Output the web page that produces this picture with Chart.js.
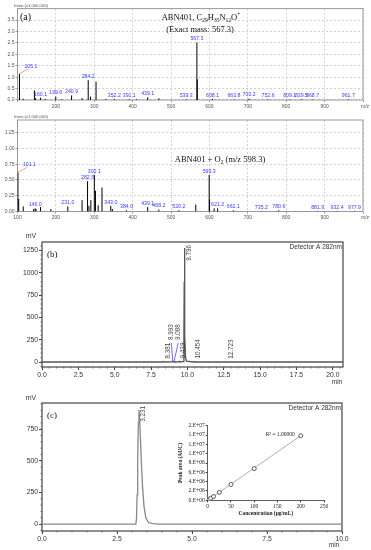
<!DOCTYPE html>
<html>
<head>
<meta charset="utf-8">
<script src="https://cdn.jsdelivr.net/npm/chart.js@4.4.0/dist/chart.umd.min.js"></script>
<style>
  html, body { margin: 0; padding: 0; background: #fff; }
  #page { position: relative; width: 371px; height: 550px; overflow: hidden; background: #fff; }
  #page canvas { position: absolute; left: 0; top: 0; }
</style>
</head>
<body>
<div id="page">
  <canvas id="ms1" width="371" height="550"></canvas>
  <canvas id="ms2" width="371" height="550"></canvas>
  <canvas id="lcB" width="371" height="550"></canvas>
  <canvas id="lcC" width="371" height="550"></canvas>
  <canvas id="cal" width="371" height="550"></canvas>
</div>
<script>
// ---------- data ----------
// (a) mass spectra, intensity in x1,000,000
const msTicksX = [100, 200, 300, 400, 500, 600, 700, 800, 900, 1000];
const ms1TicksY = [0, 0.5, 1, 1.5, 2, 2.5, 3, 3.5];
const ms2TicksY = [0, 0.25, 0.5, 0.75, 1, 1.25];

const ms1Mz  = [105.1, 115.0, 144.0, 147.1, 160.1, 172.0, 199.6, 215.1, 240.9, 268.1, 284.2, 290.0, 304.6, 330.0, 352.2, 391.1, 410.0, 439.1, 468.2, 539.3, 567.3, 568.3, 608.1, 663.8, 703.2, 752.6, 809.1, 839.5, 868.7, 961.7];
const ms1Int = [1.15, 0.05, 0.42, 0.08, 0.10, 0.04, 0.15, 0.03, 0.20, 0.08, 0.87, 0.15, 0.80, 0.04, 0.04, 0.03, 0.03, 0.12, 0.07, 0.03, 2.52, 0.90, 0.04, 0.02, 0.06, 0.02, 0.02, 0.03, 0.02, 0.02];
const ms1Lab = ['105.1', '', '', '', '160.1', '', '199.6', '', '240.9', '', '284.2', '', '', '', '352.2', '391.1', '', '439.1', '', '539.3', '567.3', '', '608.1', '663.8', '703.2', '752.6', '809.1', '839.5', '868.7', '961.7'];

const ms2Mz  = [101.1, 103.1, 115.0, 142.0, 146.0, 148.1, 160.0, 187.1, 231.0, 268.2, 282.5, 286.1, 291.1, 300.1, 303.1, 310.1, 320.1, 343.0, 347.1, 384.0, 439.1, 468.2, 520.2, 564.3, 599.3, 600.3, 612.2, 621.2, 662.1, 735.2, 780.6, 881.9, 932.4, 977.9];
const ms2Int = [0.62, 0.20, 0.08, 0.04, 0.05, 0.04, 0.07, 0.04, 0.08, 0.18, 0.48, 0.09, 0.18, 0.58, 0.33, 0.10, 0.38, 0.09, 0.04, 0.02, 0.07, 0.03, 0.02, 0.11, 0.58, 0.19, 0.05, 0.05, 0.02, 0.01, 0.02, 0.01, 0.01, 0.01];
const ms2Lab = ['101.1', '', '', '', '146.0', '', '', '', '231.0', '', '282.5', '', '', '300.1', '', '', '', '343.0', '', '384.0', '439.1', '468.2', '520.2', '', '599.3', '', '', '621.2', '662.1', '735.2', '780.6', '881.9', '932.4', '977.9'];

// (b) chromatogram, min / mV
const bTicksX = [0, 2.5, 5, 7.5, 10, 12.5, 15, 17.5, 20];
const bTicksY = [0, 250, 500, 750, 1000, 1250];
const bRt = [0, 8.30, 8.381, 8.45, 8.95, 8.993, 9.04, 9.088, 9.14, 9.40, 9.439, 9.48, 9.72, 9.76, 9.78, 9.796, 9.81, 9.83, 9.87, 9.93, 10.40, 10.454, 10.51, 12.67, 12.723, 12.78, 20.7];
const bMv = [0, 0, 5, 0, 1, 6, 2, 5, 0, 1, 7, 3, 4, 300, 900, 1278, 900, 300, 60, 10, 0, 5, 0, 0, 4, 0, 0];
const bPeaks = [8.381, 8.993, 9.088, 9.439, 9.796, 10.454, 12.723];

// (c) chromatogram
const cTicksX = [0, 2.5, 5, 7.5, 10];
const cTicksY = [0, 250, 500, 750];
const cRt = [0, 3.10, 3.13, 3.15, 3.17, 3.19, 3.21, 3.231, 3.25, 3.28, 3.31, 3.35, 3.40, 3.46, 3.55, 3.70, 3.90, 10];
const cMv = [0, 0, 5, 40, 230, 520, 800, 902, 860, 680, 500, 300, 140, 50, 12, 3, 0, 0];
const cPeaks = [3.231];

// (c) inset calibration
const calTicksX = [0, 50, 100, 150, 200, 250];
const calTicksY = [0, 2e6, 4e6, 6e6, 8e6, 1e7, 1.2e7, 1.4e7, 1.6e7];
const calConc = [0, 3.125, 6.25, 12.5, 25, 50, 100, 200];
const calAuc  = [0, 0.2e6, 0.43e6, 0.8e6, 1.7e6, 3.4e6, 6.8e6, 1.385e7];
const fitConc = [0, 200];
const fitAuc  = [0, 1.385e7];

// ---------- helpers ----------
const W = 371, H = 550;
const SANS = '"Liberation Sans", Arial, sans-serif';
const SERIF = '"Liberation Serif", "Times New Roman", serif';

function tickList(arr) {
  return s => { s.ticks = arr.map(v => ({ value: v })); };
}

// place the plot area at fixed pixels
function box(left, top, right, bottom, yW, xH) {
  return {
    padding: { left: left - yW, top: top, right: W - right, bottom: H - bottom - xH },
    fitX: s => { s.height = xH; s.paddingLeft = 0; s.paddingRight = 0; },
    fitY: s => { s.width = yW; s.paddingTop = 0; s.paddingBottom = 0; }
  };
}

function sticks(xs, ys) {
  const d = [];
  xs.forEach((x, i) => { d.push({ x: x, y: 0 }, { x: x, y: ys[i] }, { x: x, y: null }); });
  return d;
}

function frame(color, width) {
  return {
    id: 'frame',
    beforeDatasetsDraw(chart) {
      const { ctx, chartArea: c } = chart;
      ctx.save();
      ctx.strokeStyle = color;
      ctx.lineWidth = width;
      ctx.strokeRect(c.left, c.top, c.right - c.left, c.bottom - c.top);
      ctx.restore();
    }
  };
}

function richText(ctx, parts, cx, y, size) {
  const fN = size + 'px ' + SERIF, fS = (size * 0.65) + 'px ' + SERIF;
  let w = 0;
  parts.forEach(p => { ctx.font = p[1] ? fS : fN; w += ctx.measureText(p[0]).width; });
  let x = cx - w / 2;
  ctx.textAlign = 'left';
  ctx.textBaseline = 'alphabetic';
  parts.forEach(p => {
    ctx.font = p[1] ? fS : fN;
    const dy = p[1] === 'sub' ? size * 0.28 : (p[1] === 'sup' ? -size * 0.4 : 0);
    ctx.fillText(p[0], x, y + dy);
    x += ctx.measureText(p[0]).width;
  });
}

// blue peak labels of the spectra
function msLabels(mz, inten, lab) {
  return {
    id: 'msLabels',
    afterDatasetsDraw(chart) {
      const { ctx, scales: { x, y } } = chart;
      ctx.save();
      ctx.font = '5.2px ' + SANS;
      ctx.fillStyle = '#3a3aff';
      ctx.textBaseline = 'bottom';
      mz.forEach((m, i) => {
        if (!lab[i]) return;
        const px = x.getPixelForValue(m), py = y.getPixelForValue(inten[i]);
        if (i === 0) {
          // first peak sits on the axis: pink leader to the label
          ctx.strokeStyle = '#f08080';
          ctx.lineWidth = 0.8;
          ctx.beginPath(); ctx.moveTo(px, py); ctx.lineTo(px + 9, py - 5); ctx.stroke();
          ctx.textAlign = 'left';
          ctx.fillText(lab[i], px + 5, py - 5);
        } else {
          ctx.textAlign = 'center';
          ctx.fillText(lab[i], px, py - 1);
        }
      });
      ctx.restore();
    }
  };
}

function msChart(id, b, mz, inten, lab, yMax, yTicks, yDec, xFrom, drawText) {
  return new Chart(document.getElementById(id), {
    type: 'line',
    data: { datasets: [{ data: sticks(mz, inten), borderColor: '#000', borderWidth: 1, pointRadius: 0, spanGaps: false }] },
    options: {
      responsive: false, animation: false, events: [],
      layout: { padding: b.padding },
      plugins: { legend: { display: false }, tooltip: { enabled: false } },
      scales: {
        x: {
          type: 'linear', min: 100, max: 1000,
          afterBuildTicks: tickList(msTicksX), afterFit: b.fitX,
          grid: { color: '#d2d2d2', tickColor: '#999', tickLength: 2 },
          border: { display: false, dash: [2, 2] },
          ticks: { font: { family: SANS, size: 5 }, color: '#555', padding: 1.5, maxRotation: 0, autoSkip: false,
                   callback: v => (v < xFrom || v === 1000) ? '' : v }
        },
        y: {
          type: 'linear', min: 0, max: yMax,
          afterBuildTicks: tickList(yTicks), afterFit: b.fitY,
          grid: { color: '#d2d2d2', tickColor: '#999', tickLength: 2 },
          border: { display: false, dash: [2, 2] },
          ticks: { font: { family: SANS, size: 5 }, color: '#555', padding: 1, autoSkip: false,
                   callback: v => v.toFixed(yDec) }
        }
      }
    },
    plugins: [frame('#999', 1), msLabels(mz, inten, lab), { id: 'msText', afterDraw: drawText }]
  });
}

// rotated retention-time labels of the chromatograms
function rtLabels(rt, mv, peaks, leaders) {
  return {
    id: 'rtLabels',
    afterDatasetsDraw(chart) {
      const { ctx, chartArea: a, scales: { x, y } } = chart;
      const y0 = y.getPixelForValue(0);
      ctx.save();
      ctx.font = '6.3px ' + SANS;
      peaks.forEach(r => {
        const t = r.toFixed(3);
        const px = x.getPixelForValue(r), py = y.getPixelForValue(mv[rt.indexOf(r)]);
        const w = ctx.measureText(t).width;
        let lx = px + 4.5, ly = Math.max(a.top + 3 + w, py - 3);
        const lead = leaders[t];
        if (lead) {
          lx = px + lead[0];
          ly = y0 - lead[1];
          ctx.strokeStyle = '#6f6fff';
          ctx.lineWidth = 1;
          ctx.beginPath(); ctx.moveTo(lx, ly + 3); ctx.lineTo(px, y0 - 1); ctx.stroke();
        }
        ctx.save();
        ctx.translate(lx, ly);
        ctx.rotate(-Math.PI / 2);
        ctx.fillStyle = '#444';
        ctx.textAlign = 'left';
        ctx.textBaseline = 'middle';
        ctx.fillText(t, 0, 0);
        ctx.restore();
      });
      ctx.restore();
    }
  };
}

function minorTicks(xStep, yStep) {
  return {
    id: 'minorTicks',
    afterDraw(chart) {
      const { ctx, chartArea: a, scales: { x, y } } = chart;
      ctx.save();
      ctx.strokeStyle = '#555';
      ctx.lineWidth = 0.7;
      ctx.beginPath();
      for (let v = Math.ceil(x.min / xStep) * xStep; v <= x.max; v += xStep) {
        const p = x.getPixelForValue(v);
        ctx.moveTo(p, a.bottom); ctx.lineTo(p, a.bottom + 1.6);
      }
      for (let v = Math.ceil(y.min / yStep) * yStep; v <= y.max; v += yStep) {
        const p = y.getPixelForValue(v);
        ctx.moveTo(a.left, p); ctx.lineTo(a.left - 1.6, p);
      }
      ctx.stroke();
      ctx.restore();
    }
  };
}

function lcChart(id, b, rt, mv, xMax, yMin, yMax, xTicks, yTicks, peaks, leaders, color, drawText) {
  return new Chart(document.getElementById(id), {
    type: 'line',
    data: { datasets: [{ data: rt.map((r, i) => ({ x: r, y: mv[i] })), borderColor: color, borderWidth: 1.3, pointRadius: 0, tension: 0 }] },
    options: {
      responsive: false, animation: false, events: [],
      layout: { padding: b.padding },
      plugins: { legend: { display: false }, tooltip: { enabled: false } },
      scales: {
        x: {
          type: 'linear', min: 0, max: xMax,
          afterBuildTicks: tickList(xTicks), afterFit: b.fitX,
          grid: { drawOnChartArea: false, tickColor: '#444', tickLength: 3 },
          border: { display: false },
          ticks: { font: { family: SANS, size: 6.8 }, color: '#333', padding: 1.5, maxRotation: 0, autoSkip: false,
                   callback: v => v.toFixed(1) }
        },
        y: {
          type: 'linear', min: yMin, max: yMax,
          afterBuildTicks: tickList(yTicks), afterFit: b.fitY,
          grid: { drawOnChartArea: false, tickColor: '#444', tickLength: 3 },
          border: { display: false },
          ticks: { font: { family: SANS, size: 6.8 }, color: '#333', padding: 1, autoSkip: false,
                   callback: v => String(v) }
        }
      }
    },
    plugins: [frame('#444', 1.2), rtLabels(rt, mv, peaks, leaders), minorTicks(0.5, 50), { id: 'lcText', afterDraw: drawText }]
  });
}

function lcText(panel, mvY, minX, minY, detY, panelY) {
  return chart => {
    const { ctx, chartArea: a } = chart;
    ctx.save();
    ctx.fillStyle = '#333';
    ctx.font = '7px ' + SANS;
    ctx.textAlign = 'center';
    ctx.textBaseline = 'alphabetic';
    ctx.fillText('mV', 31, mvY);
    ctx.font = '6.5px ' + SANS;
    ctx.fillText('min', minX, minY);
    ctx.textAlign = 'right';
    ctx.fillText('Detector A 282nm', a.right - 1, detY);
    ctx.fillStyle = '#111';
    ctx.font = '9px ' + SERIF;
    ctx.textAlign = 'left';
    ctx.fillText(panel, a.left + 5, panelY);
    ctx.restore();
  };
}

// ---------- (a) spectra ----------
msChart('ms1', box(17.5, 8.6, 363, 100, 17.5, 8), ms1Mz, ms1Int, ms1Lab, 4.0, ms1TicksY, 1, 150, chart => {
  const { ctx } = chart;
  ctx.save();
  ctx.fillStyle = '#555';
  ctx.font = '4.2px ' + SANS;
  ctx.textAlign = 'left';
  ctx.fillText('Inten.(x1,000,000)', 14, 7);
  ctx.font = '5px ' + SANS;
  ctx.textAlign = 'center';
  ctx.fillText('m/z', 365, 107.5);
  ctx.fillStyle = '#111';
  ctx.font = '10px ' + SERIF;
  ctx.textAlign = 'left';
  ctx.fillText('(a)', 20, 20);
  richText(ctx, [['ABN401, C', ''], ['29', 'sub'], ['H', ''], ['35', 'sub'], ['N', ''], ['12', 'sub'], ['O', ''], ['+', 'sup']], 201, 19.5, 8.5);
  richText(ctx, [['(Exact mass: 567.3)', '']], 200, 32, 8.5);
  ctx.restore();
});

msChart('ms2', box(17.5, 120, 363, 211.5, 17.5, 8), ms2Mz, ms2Int, ms2Lab, 1.45, ms2TicksY, 2, 0, chart => {
  const { ctx } = chart;
  ctx.save();
  ctx.fillStyle = '#555';
  ctx.font = '4.2px ' + SANS;
  ctx.textAlign = 'left';
  ctx.fillText('Inten.(x1,000,000)', 14, 118);
  ctx.font = '5px ' + SANS;
  ctx.textAlign = 'center';
  ctx.fillText('m/z', 365, 219);
  ctx.fillStyle = '#111';
  richText(ctx, [['ABN401 + O', ''], ['2', 'sub'], [' (m/z 598.3)', '']], 220, 162, 8.5);
  ctx.restore();
});

// ---------- (b) chromatogram ----------
lcChart('lcB', box(42, 242, 343, 367, 25, 14), bRt, bMv, 20.7, -56, 1345, bTicksX, bTicksY, bPeaks,
  { '8.993': [-1.5, 22], '9.088': [4, 22] }, '#555', lcText('(b)', 238, 337, 384, 248.5, 257));

// ---------- (c) chromatogram ----------
lcChart('lcC', box(42, 403, 342, 531, 25, 14), cRt, cMv, 10, -55, 957, cTicksX, cTicksY, cPeaks,
  {}, '#888', lcText('(c)', 400, 334, 547, 409.5, 417.5));

// ---------- (c) inset calibration ----------
const calBox = box(207.7, 425.7, 324, 500.3, 30, 17);
function sci(v) {
  if (v === 0) return '0.E+00';
  const e = Math.floor(Math.log10(v));
  const m = Math.round(v / Math.pow(10, e));
  return m + '.E+' + String(e).padStart(2, '0');
}
new Chart(document.getElementById('cal'), {
  type: 'scatter',
  data: {
    datasets: [
      { data: calConc.map((c, i) => ({ x: c, y: calAuc[i] })), pointStyle: 'circle', pointRadius: 2,
        borderColor: '#333', backgroundColor: '#fff', borderWidth: 0.8 },
      { type: 'line', data: fitConc.map((c, i) => ({ x: c, y: fitAuc[i] })), borderColor: '#999',
        borderWidth: 0.8, pointRadius: 0 }
    ]
  },
  options: {
    responsive: false, animation: false, events: [],
    layout: { padding: calBox.padding },
    plugins: { legend: { display: false }, tooltip: { enabled: false } },
    scales: {
      x: {
        type: 'linear', min: 0, max: 250, afterBuildTicks: tickList(calTicksX), afterFit: calBox.fitX,
        grid: { drawOnChartArea: false, tickColor: '#333', tickLength: 2 },
        border: { display: true, color: '#333', width: 0.8 },
        ticks: { font: { family: SERIF, size: 5.5 }, color: '#222', padding: 1, maxRotation: 0, autoSkip: false },
        title: { display: true, text: 'Concentration (μg/mL)', font: { family: SERIF, size: 5.5, weight: 'bold' }, color: '#222', padding: 0 }
      },
      y: {
        type: 'linear', min: 0, max: 1.6e7, afterBuildTicks: tickList(calTicksY), afterFit: calBox.fitY,
        grid: { drawOnChartArea: false, tickColor: '#333', tickLength: 2 },
        border: { display: true, color: '#333', width: 0.8 },
        ticks: { font: { family: SERIF, size: 5.5 }, color: '#222', padding: 1, autoSkip: false, callback: v => sci(v) },
        title: { display: true, text: 'Peak area (AUC)', font: { family: SERIF, size: 5.5, weight: 'bold' }, color: '#222', padding: 0 }
      }
    }
  },
  plugins: [{
    id: 'r2',
    afterDraw(chart) {
      const { ctx, scales: { x, y } } = chart;
      const i = calConc.length - 1;
      ctx.save();
      ctx.fillStyle = '#222';
      ctx.font = '5.5px ' + SERIF;
      ctx.textAlign = 'right';
      ctx.textBaseline = 'middle';
      ctx.fillText('R² = 1.00000', x.getPixelForValue(calConc[i]) - 6, y.getPixelForValue(calAuc[i]) - 1);
      ctx.restore();
    }
  }]
});
</script>
</body>
</html>
